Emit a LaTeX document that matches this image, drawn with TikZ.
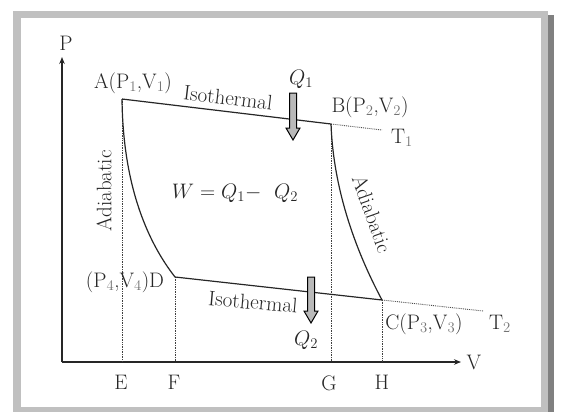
\RequirePackage{fix-cm}
\documentclass[tikz,border=0pt]{standalone}
\usepackage{fontspec}
\usepackage{tikz}
\usetikzlibrary{arrows.meta,positioning,calc}
\tikzset{
  axisln/.style={-{Stealth[length=7pt,width=5.5pt]}, line width=1.1pt, black!85},
  cycleln/.style={line width=1.2pt, black!85, line join=round},
  dropln/.style={densely dotted, line width=0.7pt, black!75},
  extln/.style={densely dotted, line width=0.9pt, black!70},
  lbl/.style={font=\fontsize{21}{24}\selectfont, text=black!85, inner sep=1pt},
  heatarr/.style={fill=gray!55, draw=black, line width=1pt, line join=miter},
}
\definecolor{framegray}{RGB}{192,192,192}
\definecolor{shadowgray}{RGB}{128,128,128}
\newcommand{\lsub}[1]{$_{\textcolor{black!55}{#1}}$}

\begin{document}
\begin{tikzpicture}[x=1pt,y=-1pt]
    \useasboundingbox (0,0) rectangle (561,412);
    % frame with shadow
    \fill[framegray] (13,11) rectangle (548,412);
    \fill[shadowgray] (548,15) rectangle (554,412);
    \fill[white] (21,18) rectangle (541,407);
    % axes
    \coordinate (O) at (62,362);
    \coordinate (Ptip) at (62,57);
    \coordinate (Vtip) at (461,362);
    \draw[axisln] (O) -- (Ptip);
    \draw[axisln] (O) -- (Vtip);
    \node[lbl] (plab) at (66,43) {P};
    \node[lbl] (vlab) at (474,362) {V};
    % corners of the cycle
    \coordinate (A) at (122,99);
    \coordinate (B) at (331,124);
    \coordinate (C) at (382,300);
    \coordinate (D) at (175,277);
    \coordinate (T1end) at (382,130);
    \coordinate (T2end) at (483,311);
    % feet on the V axis
    \coordinate (E) at (O -| A);
    \coordinate (F) at (O -| D);
    \coordinate (G) at (O -| B);
    \coordinate (H) at (O -| C);
    \draw[dropln] (A) -- (E);
    \draw[dropln] (D) -- (F);
    \draw[dropln] (B) -- (G);
    \draw[dropln] (C) -- (H);
    % isotherm extensions
    \draw[extln] (B) -- (T1end);
    \draw[extln] (C) -- (T2end);
    % the cycle
    \draw[cycleln] (A) -- (B)
      .. controls (333,180) and (350,240) .. (C)
      -- (D)
      .. controls (150,245) and (123,190) .. (A);
    % heat arrows
    \coordinate (q1top) at (293,93);
    \coordinate (q2top) at (311,277);
    \filldraw[heatarr] (q1top) ++(-3.5,0) -- ++(0,35) -- ++(-3.5,0)
      -- ++(7,12) -- ++(7,-12) -- ++(-3.5,0) -- ++(0,-35) -- cycle;
    \filldraw[heatarr] (q2top) ++(-3.5,0) -- ++(0,34) -- ++(-3.5,0)
      -- ++(7,12) -- ++(7,-12) -- ++(-3.5,0) -- ++(0,-34) -- cycle;
    \node[lbl] (q1lab) at (301,79) {$Q_1$};
    \node[lbl] (q2lab) at (306,340) {$Q_2$};
    % point labels
    \node[lbl] (alab) at (133,83) {A(P\lsub{1},V\lsub{1})};
    \node[lbl] (blab) at (370,107) {B(P\lsub{2},V\lsub{2})};
    \node[lbl] (clab) at (424,324) {C(P\lsub{3},V\lsub{3})};
    \node[lbl] (dlab) at (125,282) {(P\lsub{4},V\lsub{4})D};
    \node[lbl] (t1lab) at (402,138) {T\lsub{1}};
    \node[lbl] (t2lab) at (500,324) {T\lsub{2}};
    \node[lbl] (elab) at (121,382) {E};
    \node[lbl] (flab) at (174,382) {F};
    \node[lbl] (glab) at (329,383) {G};
    \node[lbl] (hlab) at (382,382) {H};
    % process labels
    \node[lbl, rotate=-6.8] (isoup) at (228,98) {Isothermal};
    \node[lbl, rotate=-5] (isodown) at (253,302) {Isothermal};
    \node[lbl, rotate=90] (adleft) at (104,191) {Adiabatic};
    \node[lbl, rotate=-70.5] (adright) at (372,214) {Adiabatic};
    \node[lbl] (work) at (235,193) {$W = Q_1{-}\ \ Q_2$};
\end{tikzpicture}
\end{document}
